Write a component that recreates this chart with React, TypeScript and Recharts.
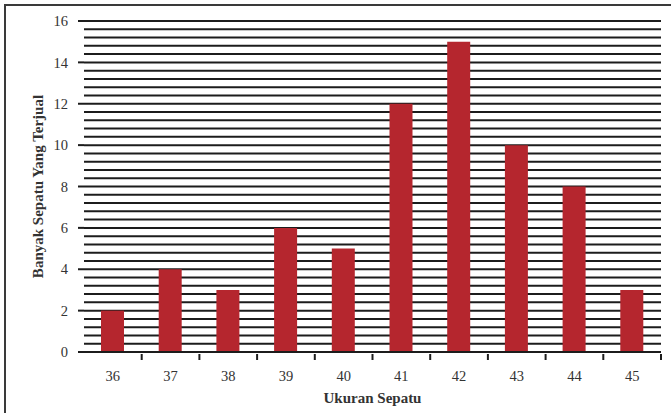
import { BarChart, Bar, XAxis, YAxis, CartesianGrid } from "recharts";

const sizes = ["36", "37", "38", "39", "40", "41", "42", "43", "44", "45"];
const sold = [2, 4, 3, 6, 5, 12, 15, 10, 8, 3];
const yTicks = [0, 2, 4, 6, 8, 10, 12, 14, 16];

// gridlines every 0.4 from 0 to 16
const gridValues: number[] = [];
for (let i = 0; i <= 40; i++) gridValues.push(Number((i * 0.4).toFixed(1)));

const data = sizes.map((s, i) => ({ size: s, sold: sold[i] }));

const FONT = "'Liberation Serif', 'Times New Roman', serif";
const INK = "#1c1c1c";
const BAR = "#b5262e";

function XTick(props: any) {
  const { x, y, payload } = props;
  const off = payload.offset ?? 28.85;
  return (
    <g>
      <line x1={x + off} x2={x + off} y1={y - 6} y2={y} stroke={INK} strokeWidth={2} />
      <text x={x} y={y + 21} textAnchor="middle" fontFamily={FONT} fontSize={14.5} fill="#333">
        {payload.value}
      </text>
    </g>
  );
}

function YLabel(props: any) {
  const { viewBox } = props;
  const cy = viewBox.y + viewBox.height / 2;
  return (
    <text
      x={38}
      y={cy}
      transform={`rotate(-90, 38, ${cy})`}
      textAnchor="middle"
      dominantBaseline="central"
      fontFamily={FONT}
      fontSize={15}
      fontWeight="bold"
      fill="#333"
    >
      Banyak Sepatu Yang Terjual
    </text>
  );
}

function XLabel(props: any) {
  const { viewBox } = props;
  const cx = viewBox.x + viewBox.width / 2;
  return (
    <text x={cx} y={403} textAnchor="middle" fontFamily={FONT} fontSize={15} fontWeight="bold" fill="#333">
      Ukuran Sepatu
    </text>
  );
}

export default function App() {
  return (
    <div style={{ position: "fixed", left: 0, top: 0, width: 671, height: 413, background: "#fff" }}>
      <div
        style={{
          position: "absolute",
          left: 4,
          top: 4,
          width: 670,
          height: 420,
          border: "2px solid #3a3a3a",
          boxSizing: "border-box",
        }}
      />
      <div style={{ position: "absolute", left: 0, top: 0 }}>
        <BarChart width={671} height={413} data={data} margin={{ top: 21, right: 10, left: 0, bottom: 0 }}>
          <CartesianGrid vertical={false} horizontalValues={gridValues} stroke={INK} strokeWidth={2} />
          <XAxis
            dataKey="size"
            height={61}
            tickLine={false}
            axisLine={{ stroke: INK, strokeWidth: 2 }}
            tick={<XTick />}
            interval={0}
            label={<XLabel />}
          />
          <YAxis
            width={84}
            domain={[0, 16]}
            ticks={yTicks}
            interval={0}
            axisLine={false}
            tickSize={6}
            tickMargin={10}
            tickLine={{ stroke: INK, strokeWidth: 2 }}
            tick={{ fontFamily: FONT, fontSize: 14.5, fill: "#333" }}
            label={<YLabel />}
          />
          <Bar dataKey="sold" fill={BAR} barSize={23} isAnimationActive={false} />
        </BarChart>
      </div>
    </div>
  );
}
